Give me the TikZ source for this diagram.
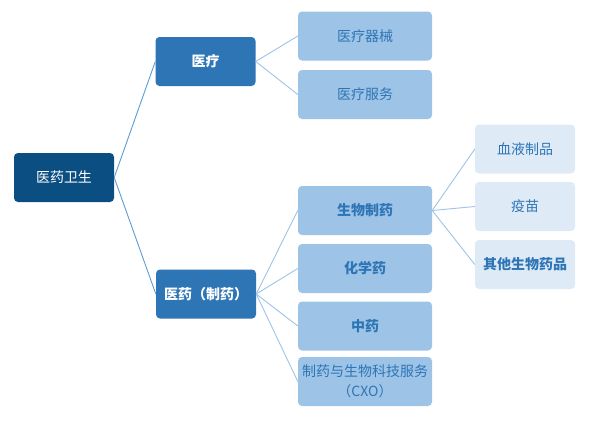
\documentclass[tikz,border=0pt]{standalone}
\usepackage{fontspec}
\setmainfont{Noto Sans CJK SC}
\definecolor{dk}{HTML}{0B4F82}
\definecolor{md}{HTML}{2E75B6}
\definecolor{lt}{HTML}{9DC3E6}
\definecolor{xl}{HTML}{DEEBF7}
\definecolor{ln1}{HTML}{5B9BD5}
\definecolor{ln2}{HTML}{9DC3E6}
\begin{document}
\begin{tikzpicture}[x=1pt,y=-1pt,
  box/.style={rounded corners=4pt,inner sep=0pt,align=center,font=\fontsize{14}{20}\selectfont},
  b0/.style={box,fill=dk,text=white,minimum width=100pt,minimum height=49pt},
  b1/.style={box,fill=md,text=white,minimum width=100pt,minimum height=49pt,font=\fontsize{14}{20}\selectfont\bfseries},
  b2/.style={box,fill=lt,text=md,minimum width=134pt,minimum height=49pt},
  b3/.style={box,fill=xl,text=md,minimum width=100pt,minimum height=49pt},
  bold/.style={font=\fontsize{14}{20}\selectfont\bfseries},
  l1/.style={draw=ln1,line width=0.9pt},
  l2/.style={draw=ln2,line width=0.9pt}]
\useasboundingbox (0,0) rectangle (598,426);
\node[b0] (root) at (64,177.5) {医药卫生};
\node[b1] (yl) at (205.5,61.5) {医疗};
\node[b1] (yy) at (206,294) {医药（制药）};
\node[b2] (ylqx) at (365,36) {医疗器械};
\node[b2] (ylfw) at (365,94.5) {医疗服务};
\node[b2,bold] (swzy) at (365,210.5) {生物制药};
\node[b2,bold] (hxy) at (365,268.5) {化学药};
\node[b2,bold] (zy) at (365,326) {中药};
\node[b2] (cxo) at (365,381.5) {制药与生物科技服务\\（CXO）};
\node[b3] (xy) at (525,149) {血液制品};
\node[b3] (ym) at (525,206.5) {疫苗};
\node[b3,bold] (qt) at (525,264.5) {其他生物药品};
\draw[l1] (root.east) -- (yl.west);
\draw[l1] (root.east) -- (yy.west);
\foreach \t in {ylqx,ylfw} \draw[l2] (yl.east) -- (\t.west);
\foreach \t in {swzy,hxy,zy,cxo} \draw[l2] (yy.east) -- (\t.west);
\foreach \t in {xy,ym,qt} \draw[l2] (swzy.east) -- (\t.west);
\end{tikzpicture}
\end{document}
